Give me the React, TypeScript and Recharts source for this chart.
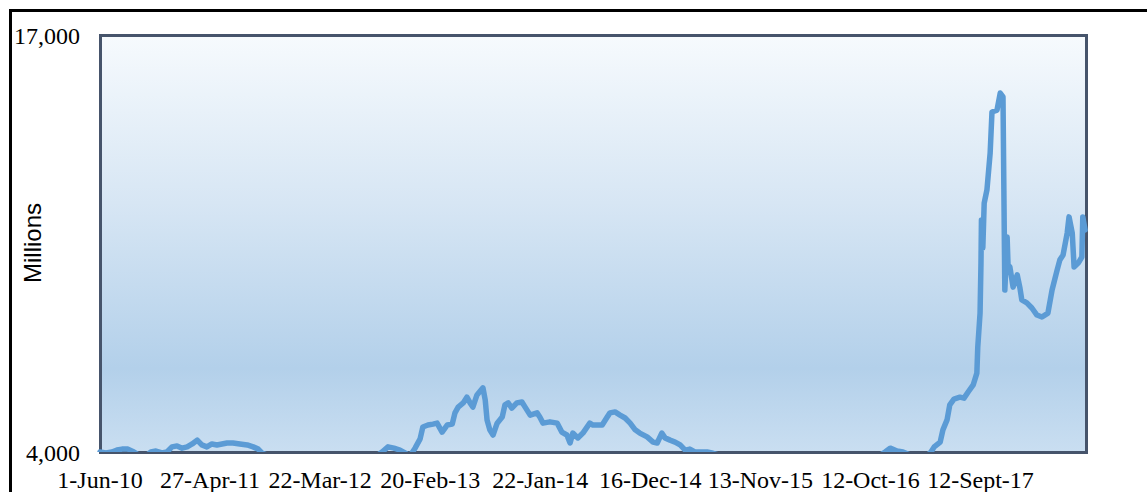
import { LineChart, Line, XAxis, YAxis } from "recharts";

// trading-day index along the x axis (a label every 240 points) and the series value in millions
const days = [
  0, 13, 26, 37, 48, 61, 74, 87, 100, 111, 122, 135, 146, 157, 168, 179, 190, 201, 212, 222,
  233, 244, 255, 266, 277, 290, 305, 321, 334, 345, 353, 382, 436, 480, 523, 567, 600, 615, 628, 641,
  654, 665, 676, 687, 698, 704, 715, 726, 735, 746, 757, 768, 774, 781, 792, 800, 807, 813, 822, 835,
  840, 844, 850, 857, 866, 877, 883, 890, 898, 909, 920, 927, 938, 953, 959, 966, 981, 997, 1007, 1018,
  1025, 1031, 1042, 1053, 1068, 1075, 1086, 1095, 1106, 1112, 1123, 1134, 1145, 1156, 1167, 1177, 1193, 1206, 1215, 1225,
  1232, 1243, 1254, 1265, 1276, 1286, 1297, 1308, 1324, 1334, 1374, 1439, 1505, 1570, 1635, 1679, 1712, 1723, 1738, 1751,
  1766, 1788, 1805, 1812, 1819, 1832, 1838, 1847, 1853, 1862, 1875, 1884, 1893, 1904, 1912, 1914, 1919, 1921, 1922, 1925,
  1928, 1934, 1941, 1945, 1956, 1963, 1969, 1973, 1978, 1980, 1984, 1991, 2000, 2006, 2010, 2021, 2032, 2043, 2054, 2067,
  2076, 2087, 2093, 2100, 2109, 2113, 2120, 2124, 2133, 2141, 2143, 2148,
];

const values = [
  4000, 3970, 4000, 4060, 4090, 4090, 4000, 3880, 3880, 4000, 4030, 3970, 4000, 4160, 4190, 4120, 4160, 4250, 4370, 4220,
  4160, 4250, 4220, 4250, 4280, 4280, 4250, 4220, 4160, 4090, 3970, 3800, 3650, 3550, 3600, 3700, 3850, 4000, 4160, 4120,
  4060, 3970, 3880, 4120, 4410, 4780, 4840, 4870, 4900, 4620, 4840, 4870, 5220, 5400, 5530, 5710, 5530, 5400, 5780, 6000,
  5620, 5000, 4690, 4530, 4900, 5090, 5470, 5530, 5370, 5530, 5560, 5400, 5150, 5220, 5090, 4900, 4940, 4900, 4620, 4530,
  4280, 4590, 4440, 4590, 4900, 4840, 4840, 4840, 5090, 5220, 5250, 5150, 5060, 4900, 4690, 4590, 4470, 4310, 4280, 4590,
  4440, 4370, 4310, 4220, 4060, 4090, 4000, 4000, 4000, 3970, 3800, 3600, 3450, 3400, 3500, 3700, 4000, 4120, 4030, 4000,
  3910, 3810, 3910, 4000, 4160, 4310, 4690, 5000, 5470, 5650, 5710, 5680, 5870, 6090, 6460, 7270, 8330, 9890, 11230, 10360,
  11760, 12170, 13320, 14600, 14660, 15190, 15070, 9050, 10700, 9830, 9770, 9140, 9520, 9110, 8740, 8650, 8490, 8270, 8210, 8330,
  9050, 9670, 9990, 10140, 10830, 11330, 10830, 9770, 9890, 10080, 11330, 10920,
];

const tickLabels = [
  "1-Jun-10", "27-Apr-11", "22-Mar-12", "20-Feb-13", "22-Jan-14",
  "16-Dec-14", "13-Nov-15", "12-Oct-16", "12-Sept-17",
];
const yTicks = [4000, 17000];

const data = days.map((d, i) => ({ day: d, value: values[i] }));
const xTicks = tickLabels.map((_, i) => i * 240);

const serif = "'Liberation Serif', 'Times New Roman', serif";

export default function App() {
  return (
    <div style={{ position: "fixed", left: 0, top: 0, width: 1147, height: 492, overflow: "hidden", background: "#fff" }}>
      <div style={{ position: "absolute", left: 9, top: 9, width: 1200, height: 600, border: "3px solid #000" }} />
      <div
        style={{
          position: "absolute", left: 99, top: 34, width: 989, height: 420, boxSizing: "border-box",
          border: "3px solid #46546b",
          background: "linear-gradient(to bottom, #f6fafd 0%, #d7e6f4 40%, #b3d0ea 80%, #c9def1 100%)",
        }}
      />
      <div
        style={{
          position: "absolute", left: 33, top: 243, transform: "translate(-50%, -50%) rotate(-90deg)",
          fontFamily: "'Liberation Sans', Arial, sans-serif", fontSize: 24, lineHeight: 1, whiteSpace: "nowrap", color: "#000",
        }}
      >
        Millions
      </div>
      <div style={{ position: "absolute", left: 0, top: 0 }}>
        <LineChart width={1147} height={492} data={data} margin={{ top: 35, right: 61, bottom: 0, left: 0 }}>
          <XAxis
            dataKey="day"
            type="number"
            domain={[0, 2150]}
            ticks={xTicks}
            interval={0}
            tickFormatter={(v: number) => tickLabels[Math.round(v / 240)]}
            axisLine={false}
            tickLine={false}
            tickSize={0}
            tickMargin={19}
            height={40}
            tick={{ fontFamily: serif, fontSize: 24, fill: "#000" }}
          />
          <YAxis
            type="number"
            domain={[4000, 17000]}
            allowDataOverflow
            ticks={yTicks}
            interval={0}
            tickFormatter={(v: number) => v.toLocaleString("en-US")}
            axisLine={false}
            tickLine={false}
            tickSize={0}
            tickMargin={20}
            width={100}
            tick={{ fontFamily: serif, fontSize: 24, fill: "#000" }}
          />
          <Line
            type="linear"
            dataKey="value"
            stroke="#5b9bd5"
            strokeWidth={5.5}
            strokeLinejoin="round"
            strokeLinecap="round"
            dot={false}
            activeDot={false}
            isAnimationActive={false}
          />
        </LineChart>
      </div>
    </div>
  );
}
